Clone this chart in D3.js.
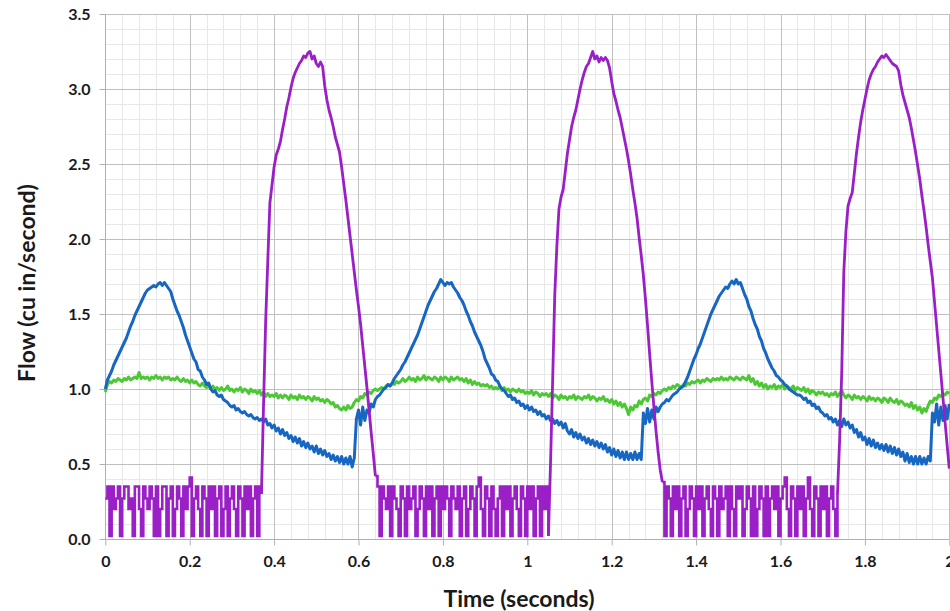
<!DOCTYPE html>
<html><head><meta charset="utf-8">
<script src="https://cdn.jsdelivr.net/npm/d3@7"></script>
<style>
body{margin:0;background:#fff}
svg{display:block}
text{font-family:Lato,"Open Sans",sans-serif;font-weight:700;fill:#1a1a1a}
</style>
</head><body>
<svg id="chart" width="950" height="611"></svg>
<script>
// sample interval of the recorded traces (seconds)
const sampleStep = 0.005;

const xTickValues = [0, 0.2, 0.4, 0.6, 0.8, 1.0, 1.2, 1.4, 1.6, 1.8, 2.0];
const xTickLabels = ["0", "0.2", "0.4", "0.6", "0.8", "1", "1.2", "1.4", "1.6", "1.8", "2"];
const yTickValues = [0, 0.5, 1.0, 1.5, 2.0, 2.5, 3.0, 3.5];
const yTickLabels = ["0.0", "0.5", "1.0", "1.5", "2.0", "2.5", "3.0", "3.5"];

const xTitle = "Time (seconds)";
const yTitle = "Flow (cu in/second)";

// blue trace, one row = 0.05 s
const blueFlow = [
1.00,1.06,1.09,1.12,1.16,1.19,1.22,1.25,1.28,1.31,
1.34,1.38,1.42,1.45,1.49,1.52,1.55,1.58,1.61,1.64,
1.66,1.67,1.68,1.69,1.68,1.70,1.71,1.69,1.71,1.69,
1.67,1.65,1.60,1.56,1.52,1.49,1.45,1.41,1.36,1.32,
1.28,1.24,1.20,1.18,1.13,1.12,1.08,1.06,1.03,1.04,
1.00,0.98,0.99,0.96,0.95,0.96,0.93,0.92,0.91,0.89,
0.88,0.89,0.86,0.87,0.85,0.84,0.85,0.83,0.82,0.83,
0.81,0.80,0.81,0.79,0.80,0.78,0.80,0.76,0.77,0.74,
0.76,0.72,0.74,0.70,0.73,0.69,0.71,0.67,0.69,0.65,
0.68,0.64,0.67,0.62,0.65,0.61,0.64,0.60,0.62,0.58,
0.62,0.57,0.60,0.56,0.59,0.55,0.57,0.53,0.56,0.52,
0.55,0.51,0.55,0.50,0.54,0.50,0.55,0.48,0.54,0.80,
0.86,0.76,0.88,0.79,0.86,0.84,0.90,0.88,0.93,0.95,
0.96,0.98,1.00,1.01,1.03,1.02,1.04,1.07,1.09,1.11,
1.13,1.16,1.18,1.21,1.24,1.27,1.30,1.33,1.36,1.40,
1.44,1.48,1.52,1.56,1.59,1.62,1.65,1.67,1.70,1.73,
1.71,1.69,1.71,1.70,1.71,1.68,1.66,1.64,1.61,1.59,
1.56,1.52,1.49,1.45,1.42,1.38,1.35,1.32,1.29,1.25,
1.20,1.17,1.14,1.10,1.09,1.06,1.05,1.02,1.00,0.99,
0.97,0.95,0.96,0.93,0.94,0.91,0.92,0.89,0.90,0.87,
0.89,0.86,0.88,0.85,0.86,0.83,0.85,0.82,0.83,0.80,
0.82,0.79,0.80,0.77,0.79,0.76,0.78,0.74,0.77,0.72,
0.70,0.73,0.68,0.71,0.67,0.70,0.66,0.68,0.64,0.67,
0.63,0.66,0.62,0.65,0.61,0.64,0.60,0.63,0.58,0.61,
0.56,0.60,0.55,0.59,0.54,0.58,0.53,0.58,0.53,0.57,
0.53,0.58,0.53,0.57,0.53,0.84,0.77,0.87,0.78,0.86,
0.80,0.88,0.85,0.88,0.90,0.91,0.93,0.92,0.94,0.96,
0.97,0.98,1.00,1.01,1.02,1.05,1.08,1.12,1.16,1.20,
1.23,1.27,1.30,1.34,1.38,1.42,1.46,1.50,1.53,1.56,
1.59,1.62,1.64,1.66,1.68,1.67,1.70,1.72,1.70,1.73,
1.70,1.71,1.67,1.63,1.60,1.55,1.52,1.47,1.43,1.40,
1.35,1.32,1.27,1.24,1.20,1.17,1.14,1.12,1.09,1.08,
1.06,1.05,1.03,1.02,1.00,0.99,0.98,0.97,0.96,0.96,
0.95,0.93,0.94,0.91,0.92,0.89,0.90,0.87,0.88,0.85,
0.84,0.82,0.83,0.80,0.81,0.78,0.80,0.76,0.79,0.75,
0.80,0.76,0.78,0.74,0.76,0.71,0.73,0.68,0.71,0.66,
0.68,0.63,0.67,0.62,0.66,0.61,0.64,0.60,0.63,0.59,
0.63,0.58,0.62,0.57,0.61,0.56,0.60,0.55,0.58,0.52,
0.57,0.51,0.55,0.50,0.55,0.50,0.55,0.50,0.54,0.50,
0.55,0.52,0.84,0.78,0.90,0.76,0.88,0.79,0.89,0.80,
0.90
];

// green trace
const greenFlow = [
0.98,1.03,1.05,1.04,1.06,1.05,1.07,1.06,1.05,1.07,
1.06,1.08,1.06,1.07,1.08,1.07,1.11,1.07,1.08,1.07,
1.08,1.06,1.08,1.07,1.09,1.07,1.08,1.06,1.08,1.07,
1.08,1.06,1.07,1.06,1.08,1.06,1.05,1.07,1.05,1.06,
1.04,1.06,1.04,1.05,1.03,1.02,1.04,1.02,1.01,1.02,
1.00,1.02,1.00,1.01,0.99,1.01,0.99,1.00,1.02,0.99,
1.00,0.98,1.00,0.99,1.01,0.98,1.00,0.99,0.97,1.00,
0.98,0.99,0.97,0.99,0.96,0.98,0.95,0.97,0.95,0.96,
0.95,0.97,0.94,0.96,0.94,0.96,0.95,0.93,0.96,0.94,
0.95,0.93,0.96,0.94,0.95,0.93,0.95,0.94,0.92,0.95,
0.93,0.94,0.92,0.93,0.91,0.93,0.92,0.90,0.91,0.88,
0.89,0.87,0.86,0.88,0.86,0.89,0.87,0.88,0.91,0.93,
0.92,0.95,0.94,0.97,0.96,0.98,0.97,0.99,1.00,0.99,
1.00,1.01,1.00,1.02,1.03,1.02,1.04,1.03,1.05,1.04,
1.05,1.07,1.05,1.06,1.08,1.06,1.07,1.05,1.08,1.06,
1.07,1.09,1.06,1.08,1.07,1.06,1.08,1.07,1.05,1.08,
1.06,1.08,1.07,1.05,1.08,1.06,1.07,1.08,1.06,1.07,
1.05,1.07,1.04,1.06,1.03,1.05,1.03,1.04,1.02,1.03,
1.02,1.03,1.01,1.02,1.00,1.01,1.00,1.02,0.99,1.01,
0.99,1.00,0.98,1.00,0.99,0.98,1.00,0.98,0.99,0.97,
0.98,0.97,0.99,0.96,0.98,0.97,0.95,0.97,0.96,0.97,
0.95,0.97,0.94,0.96,0.95,0.93,0.96,0.94,0.95,0.93,
0.95,0.94,0.96,0.93,0.95,0.94,0.93,0.95,0.94,0.96,
0.93,0.95,0.94,0.92,0.94,0.93,0.95,0.92,0.93,0.91,
0.93,0.90,0.92,0.89,0.91,0.88,0.90,0.87,0.83,0.88,
0.86,0.89,0.88,0.92,0.90,0.93,0.94,0.92,0.96,0.95,
0.97,0.96,0.98,0.97,0.99,1.00,0.99,1.01,1.00,1.02,
1.01,1.03,1.02,1.01,1.03,1.02,1.04,1.03,1.05,1.04,
1.05,1.06,1.04,1.06,1.05,1.07,1.06,1.05,1.07,1.06,
1.07,1.06,1.08,1.06,1.07,1.06,1.08,1.07,1.06,1.08,
1.07,1.06,1.08,1.07,1.06,1.09,1.05,1.07,1.03,1.05,
1.02,1.04,1.01,1.03,1.00,1.02,1.01,1.03,1.00,1.02,
1.01,1.03,1.00,1.02,1.01,1.00,1.02,0.99,1.01,1.00,
0.99,1.01,0.98,1.00,0.97,0.99,0.98,0.96,0.98,0.97,
0.98,0.96,0.97,0.95,0.97,0.96,0.98,0.95,0.97,0.99,
0.96,0.94,0.96,0.95,0.93,0.96,0.94,0.95,0.93,0.95,
0.94,0.92,0.95,0.93,0.94,0.92,0.94,0.93,0.91,0.94,
0.93,0.91,0.94,0.92,0.91,0.93,0.90,0.92,0.91,0.89,
0.90,0.88,0.91,0.87,0.89,0.86,0.88,0.84,0.87,0.85,
0.89,0.92,0.91,0.94,0.93,0.96,0.95,0.97,0.96,0.98,
0.97
];

// purple trace
const purpleFlow = [
0.27,0.35,0.02,0.35,0.20,0.27,0.35,0.02,0.27,0.35,
0.35,0.20,0.27,0.02,0.35,0.35,0.20,0.02,0.35,0.27,
0.20,0.35,0.27,0.02,0.35,0.02,0.20,0.35,0.35,0.02,
0.27,0.35,0.02,0.20,0.35,0.27,0.02,0.35,0.20,0.35,
0.41,0.02,0.27,0.35,0.20,0.02,0.35,0.27,0.02,0.35,
0.20,0.35,0.02,0.27,0.35,0.02,0.20,0.35,0.02,0.27,
0.35,0.20,0.02,0.35,0.27,0.02,0.35,0.20,0.35,0.02,
0.27,0.35,0.02,0.35,0.30,0.90,1.45,1.85,2.24,2.36,
2.48,2.56,2.60,2.65,2.73,2.80,2.88,2.94,3.01,3.07,
3.11,3.14,3.17,3.19,3.22,3.21,3.24,3.25,3.20,3.22,
3.17,3.15,3.18,3.15,3.02,2.93,2.86,2.81,2.75,2.68,
2.63,2.58,2.48,2.37,2.26,2.14,2.02,1.90,1.78,1.66,
1.55,1.43,1.29,1.15,1.01,0.86,0.71,0.57,0.42,0.35,
0.02,0.35,0.27,0.20,0.35,0.02,0.35,0.27,0.20,0.02,
0.35,0.27,0.02,0.35,0.20,0.27,0.35,0.02,0.20,0.35,
0.27,0.02,0.35,0.20,0.35,0.02,0.27,0.35,0.02,0.35,
0.20,0.35,0.27,0.02,0.35,0.27,0.20,0.35,0.02,0.27,
0.35,0.02,0.20,0.35,0.27,0.02,0.35,0.41,0.20,0.02,
0.35,0.27,0.02,0.35,0.20,0.02,0.27,0.35,0.02,0.35,
0.20,0.35,0.02,0.27,0.35,0.20,0.02,0.35,0.27,0.02,
0.35,0.20,0.35,0.02,0.27,0.35,0.02,0.35,0.20,0.35,
0.02,0.50,1.05,1.62,1.95,2.20,2.28,2.33,2.45,2.57,
2.66,2.75,2.81,2.86,2.93,3.00,3.06,3.11,3.15,3.17,
3.21,3.25,3.20,3.22,3.18,3.21,3.19,3.21,3.19,3.14,
3.05,2.97,2.92,2.86,2.81,2.74,2.67,2.60,2.52,2.43,
2.33,2.24,2.14,2.01,1.89,1.76,1.60,1.42,1.23,1.05,
0.88,0.72,0.58,0.46,0.38,0.02,0.35,0.27,0.02,0.35,
0.20,0.35,0.02,0.27,0.35,0.02,0.20,0.35,0.27,0.02,
0.35,0.20,0.35,0.02,0.27,0.35,0.20,0.02,0.35,0.27,
0.02,0.35,0.20,0.27,0.35,0.02,0.35,0.20,0.02,0.35,
0.27,0.35,0.02,0.20,0.35,0.27,0.02,0.35,0.02,0.20,
0.35,0.27,0.02,0.35,0.02,0.27,0.35,0.20,0.35,0.02,
0.27,0.35,0.41,0.20,0.02,0.35,0.27,0.02,0.35,0.20,
0.35,0.02,0.27,0.41,0.20,0.02,0.35,0.27,0.02,0.35,
0.20,0.35,0.02,0.27,0.35,0.20,0.02,0.30,0.65,1.10,
1.78,2.05,2.22,2.27,2.31,2.44,2.57,2.68,2.78,2.86,
2.93,3.00,3.06,3.10,3.13,3.15,3.18,3.20,3.22,3.21,
3.23,3.21,3.19,3.17,3.16,3.15,3.12,3.03,2.96,2.91,
2.86,2.81,2.74,2.66,2.58,2.49,2.40,2.29,2.19,2.08,
1.96,1.85,1.74,1.58,1.42,1.26,1.10,0.94,0.78,0.62,
0.47
];

const svg = d3.select("#chart");
const x = d3.scaleLinear().domain([0, 2]).range([105.3, 949.3]);
const y = d3.scaleLinear().domain([0, 3.5]).range([539, 14]);

// minor grid
const minorX = d3.range(0, 51).map(i => i * 0.04).filter((v, i) => i % 5 !== 0);
const minorY = d3.range(0, 36).map(i => i * 0.1).filter((v, i) => i % 5 !== 0);
const grid = svg.append("g");
grid.selectAll(".mx").data(minorX).join("line")
  .attr("x1", d => Math.round(x(d)) + 0.5).attr("x2", d => Math.round(x(d)) + 0.5)
  .attr("y1", y(3.5)).attr("y2", y(0))
  .attr("stroke", "#e8e8e8").attr("stroke-width", 1);
grid.selectAll(".my").data(minorY).join("line")
  .attr("x1", x(0)).attr("x2", x(2))
  .attr("y1", d => Math.round(y(d)) + 0.5).attr("y2", d => Math.round(y(d)) + 0.5)
  .attr("stroke", "#e8e8e8").attr("stroke-width", 1);

// major grid
grid.selectAll(".Mx").data(xTickValues).join("line")
  .attr("x1", d => Math.round(x(d)) + 0.5).attr("x2", d => Math.round(x(d)) + 0.5)
  .attr("y1", y(3.5)).attr("y2", y(0))
  .attr("stroke", "#c0c0c0").attr("stroke-width", 1);
grid.selectAll(".My").data(yTickValues).join("line")
  .attr("x1", x(0)).attr("x2", x(2))
  .attr("y1", d => Math.round(y(d)) + 0.5).attr("y2", d => Math.round(y(d)) + 0.5)
  .attr("stroke", "#c0c0c0").attr("stroke-width", 1);

// axes
const xAxis = d3.axisBottom(x).tickValues(xTickValues)
  .tickFormat((d, i) => xTickLabels[i]).tickSize(6).tickPadding(10);
const yAxis = d3.axisLeft(y).tickValues(yTickValues)
  .tickFormat((d, i) => yTickLabels[i]).tickSize(6).tickPadding(9);

const gx = svg.append("g").attr("transform", `translate(0,${Math.round(y(0)) + 0.5})`).call(xAxis);
const gy = svg.append("g").attr("transform", `translate(${Math.round(x(0)) + 0.5},0)`).call(yAxis);
[gx, gy].forEach(g => {
  g.select(".domain").attr("stroke", "#b0b0b0").attr("d", null);
  g.selectAll(".tick line").attr("stroke", "#b0b0b0");
  g.selectAll(".tick text").attr("font-size", 16).attr("font-family", "Lato, 'Open Sans', sans-serif")
    .attr("font-weight", 700).attr("fill", "#1a1a1a");
});
svg.append("line").attr("x1", Math.round(x(0)) + 0.5).attr("x2", Math.round(x(0)) + 0.5)
  .attr("y1", y(3.5)).attr("y2", y(0)).attr("stroke", "#b0b0b0");
svg.append("line").attr("x1", x(0)).attr("x2", x(2))
  .attr("y1", Math.round(y(0)) + 0.5).attr("y2", Math.round(y(0)) + 0.5).attr("stroke", "#b0b0b0");

// series
const px = (d, i) => x(i * sampleStep);
const linear = d3.line().x(px).y(d => y(d));
const plotG = svg.append("g");

plotG.append("path").attr("d", linear(greenFlow))
  .attr("fill", "none").attr("stroke", "#4cc834").attr("stroke-width", 3)
  .attr("stroke-linejoin", "round");
plotG.append("path").attr("d", linear(blueFlow))
  .attr("fill", "none").attr("stroke", "#1766c2").attr("stroke-width", 3)
  .attr("stroke-linejoin", "round");

// purple: baseline noise drawn as a sampled (held) signal, pulses as a line
const isPulse = i => purpleFlow[i] > 0.42 ||
  (i > 0 && purpleFlow[i - 1] > 0.42) || (i < purpleFlow.length - 1 && purpleFlow[i + 1] > 0.42);
const isNoise = i => purpleFlow[i] <= 0.42;
const pulseLine = d3.line().defined((d, i) => isPulse(i)).x(px).y(d => y(d));
const noiseLine = d3.line().curve(d3.curveStepAfter).defined((d, i) => isNoise(i)).x(px).y(d => y(d));
plotG.append("path").attr("d", noiseLine(purpleFlow))
  .attr("fill", "none").attr("stroke", "#9a1fc6").attr("stroke-width", 2.6)
  .attr("stroke-linejoin", "miter");
plotG.append("path").attr("d", pulseLine(purpleFlow))
  .attr("fill", "none").attr("stroke", "#9a1fc6").attr("stroke-width", 2.8)
  .attr("stroke-linejoin", "round");

// titles
svg.append("text").attr("x", 519).attr("y", 607).attr("text-anchor", "middle")
  .attr("font-size", 23).text(xTitle);
svg.append("text").attr("transform", "translate(35,283) rotate(-90)").attr("text-anchor", "middle")
  .attr("font-size", 23).text(yTitle);
</script>
</body></html>
